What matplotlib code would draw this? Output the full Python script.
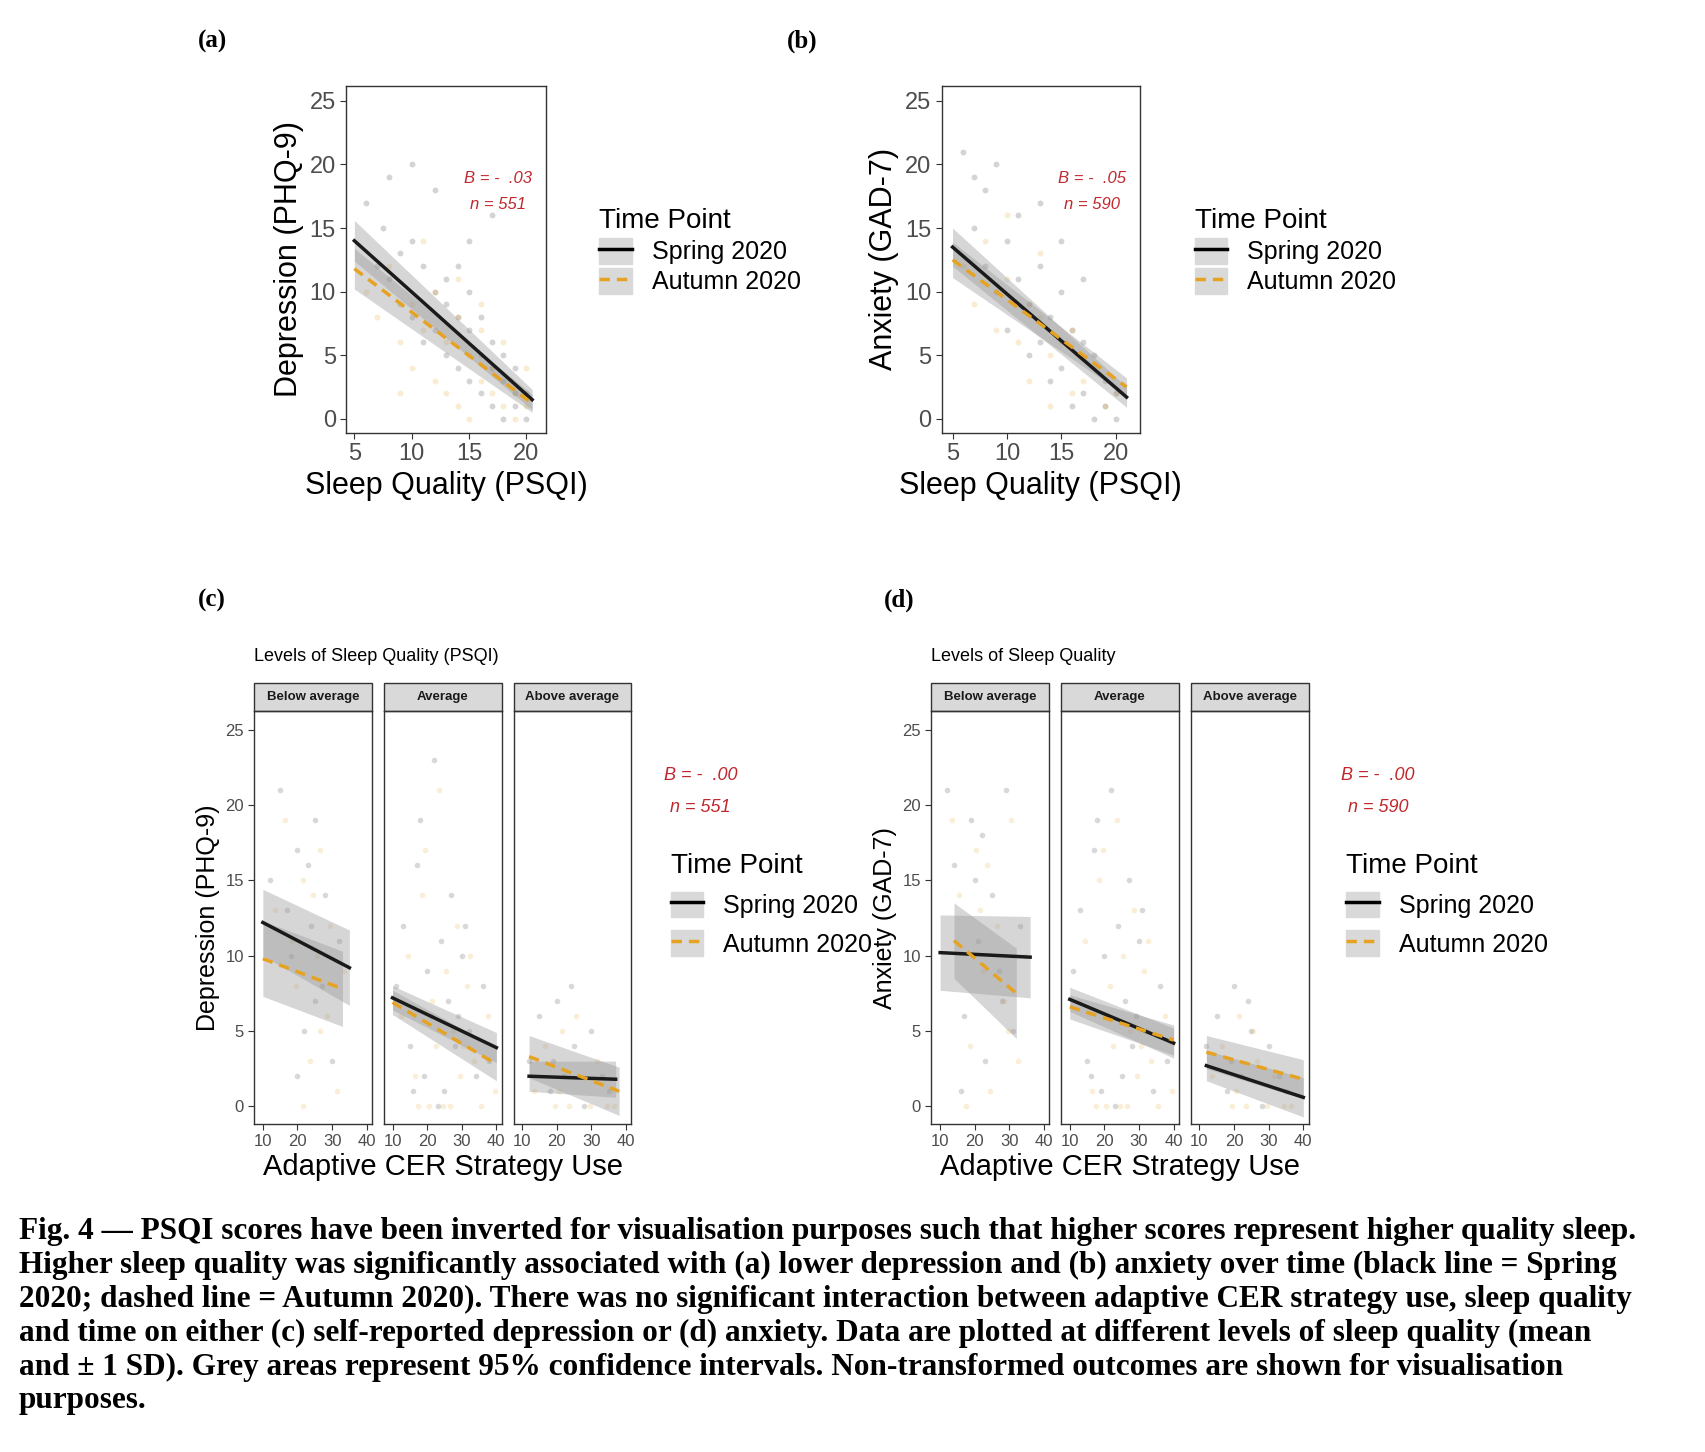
import numpy as np
import matplotlib.pyplot as plt
from matplotlib.lines import Line2D
from matplotlib.patches import Patch, Rectangle

plt.rcParams['font.family'] = ['Liberation Sans', 'DejaVu Sans']

# ---- data ----
# (a) depression vs sleep quality
a_spring_x = [6, 7, 7.5, 8, 9, 9, 10, 10, 11, 11, 12, 12, 13, 13, 13, 14, 14, 14, 15, 15, 15, 16, 16, 16, 17, 17, 17, 18, 18, 18, 19, 19, 19, 20, 20, 12, 10, 15, 17, 8]
a_spring_y = [17, 12, 15, 11, 13, 9, 14, 8, 12, 6, 10, 7, 11, 5, 9, 8, 4, 12, 7, 3, 10, 5, 2, 8, 4, 1, 6, 3, 0, 5, 2, 1, 4, 0, 2, 18, 20, 14, 16, 19]
a_autumn_x = [6, 7, 8, 9, 10, 10, 11, 12, 12, 13, 13, 14, 14, 15, 15, 16, 16, 17, 17, 18, 18, 19, 19, 20, 11, 9, 14, 16, 18, 20]
a_autumn_y = [10, 8, 12, 6, 9, 4, 7, 10, 3, 6, 2, 8, 1, 5, 0, 3, 7, 2, 4, 1, 3, 0, 2, 1, 14, 2, 11, 9, 6, 4]
# (b) anxiety vs sleep quality
b_spring_x = [6, 7, 8, 8, 9, 10, 10, 11, 11, 12, 12, 13, 13, 14, 14, 15, 15, 16, 16, 17, 17, 18, 18, 19, 19, 20, 20, 7, 9, 13, 15, 17]
b_spring_y = [21, 15, 12, 18, 10, 14, 7, 11, 16, 9, 5, 12, 6, 8, 3, 10, 4, 7, 1, 6, 2, 5, 0, 3, 1, 2, 0, 19, 20, 17, 14, 11]
b_autumn_x = [6, 7, 8, 9, 10, 11, 12, 12, 13, 14, 14, 15, 16, 16, 17, 18, 19, 20, 10, 13]
b_autumn_y = [12, 9, 14, 7, 11, 6, 9, 3, 8, 5, 1, 6, 2, 7, 3, 4, 1, 2, 16, 13]
a_lines = {'spring': ([5, 20.5], [14.0, 1.5], [1.6, 0.8]), 'autumn': ([5, 20.5], [11.8, 1.2], [1.6, 0.7])}
b_lines = {'spring': ([5, 21], [13.5, 1.7], [1.5, 0.8]), 'autumn': ([5, 21], [12.5, 2.5], [1.4, 0.7])}

# (c)/(d) facets: Below average, Average, Above average
facets = ['Below average', 'Average', 'Above average']
c_pts_x = [[12, 15, 18, 20, 22, 24, 25, 27, 28, 30, 32, 20, 25, 17, 23],
           [11, 13, 15, 17, 19, 20, 21, 22, 24, 25, 26, 28, 30, 32, 34, 36, 38, 18, 23, 27, 29, 16, 31],
           [12, 15, 18, 20, 22, 25, 28, 30, 33, 35, 24, 19]]
c_pts_y = [[15, 21, 10, 17, 5, 12, 19, 8, 14, 3, 11, 2, 7, 13, 16],
           [8, 12, 4, 16, 2, 9, 6, 23, 11, 1, 7, 4, 10, 5, 2, 8, 3, 19, 0, 14, 6, 1, 12],
           [3, 6, 1, 7, 2, 4, 0, 5, 2, 1, 8, 3]]
c_lines = [{'spring': ([10, 35], [12.2, 9.2], [2.2, 2.5]), 'autumn': ([10, 33], [9.8, 7.8], [2.5, 2.5])},
           {'spring': ([10, 40], [7.2, 3.9], [0.8, 1.0]), 'autumn': ([10, 40], [6.9, 2.8], [0.8, 1.1])},
           {'spring': ([12, 37], [2.0, 1.8], [1.0, 1.2]), 'autumn': ([12, 38], [3.3, 1.0], [1.4, 1.6])}]
d_pts_x = [[12, 14, 17, 19, 21, 23, 25, 27, 29, 31, 33, 16, 22, 28, 20],
           [11, 13, 15, 17, 19, 20, 21, 22, 24, 25, 26, 28, 30, 32, 34, 36, 38, 18, 23, 27, 29, 16, 31],
           [12, 15, 18, 20, 22, 25, 28, 30, 33, 35, 24, 19]]
d_pts_y = [[21, 16, 6, 19, 11, 3, 14, 9, 21, 5, 12, 1, 18, 7, 15],
           [9, 13, 3, 17, 1, 10, 6, 21, 12, 2, 7, 4, 11, 5, 1, 8, 3, 19, 0, 15, 6, 2, 13],
           [4, 6, 1, 8, 2, 5, 0, 4, 2, 1, 7, 3]]
d_lines = [{'spring': ([10, 36], [10.2, 9.9], [2.5, 2.7]), 'autumn': ([14, 32], [11.0, 7.5], [2.5, 3.0])},
           {'spring': ([10, 40], [7.1, 4.2], [0.8, 1.0]), 'autumn': ([10, 40], [6.6, 4.4], [0.8, 1.0])},
           {'spring': ([12, 40], [2.7, 0.6], [1.0, 1.3]), 'autumn': ([12, 40], [3.6, 1.8], [1.1, 1.3])}]

GOLD = '#E6A323'
RED = '#C0282D'

fig = plt.figure(figsize=(17.06, 14.52), dpi=100)


def style(ax, tick_size):
    ax.tick_params(labelsize=tick_size, color='#333333', labelcolor='#4d4d4d', length=4)
    for s in ax.spines.values():
        s.set_color('#333333')
        s.set_linewidth(1)


def draw_lines(ax, lines):
    for key, (xs, ys, se) in lines.items():
        xs = np.array(xs, float)
        ys = np.array(ys, float)
        se = np.array(se, float)
        ax.fill_between(xs, ys - se, ys + se, color='#999999', alpha=0.4, lw=0)
        if key == 'spring':
            ax.plot(xs, ys, color='#1a1a1a', lw=2.5)
        else:
            ax.plot(xs, ys, color=GOLD, lw=2.5, ls=(0, (3, 2)))


def legend(x, y, fs_title, fs, spacing):
    h = [(Patch(color='#d9d9d9'), Line2D([], [], color='black', lw=2.5)),
         (Patch(color='#d9d9d9'), Line2D([], [], color=GOLD, lw=2.5, ls=(0, (3, 2))))]
    lg = fig.legend(h, ['Spring 2020', 'Autumn 2020'], loc='upper left', bbox_to_anchor=(x, y),
                    frameon=False, title='Time Point', fontsize=fs, title_fontsize=fs_title,
                    handlelength=1.3, handleheight=1.2, labelspacing=spacing)
    lg._legend_box.align = 'left'


# ---- top panels ----
for lab, rect, xl, yl, xs, ys, lines, B, n, leg_x, lab_x in [
        ('(a)', [0.203, 0.702, 0.117, 0.239], (4.3, 21.7), 'Depression (PHQ-9)',
         (a_spring_x, a_autumn_x), (a_spring_y, a_autumn_y), a_lines, '.03', '551', 0.338, 0.116),
        ('(b)', [0.552, 0.702, 0.116, 0.239], (4.0, 22.2), 'Anxiety (GAD-7)',
         (b_spring_x, b_autumn_x), (b_spring_y, b_autumn_y), b_lines, '.05', '590', 0.687, 0.461)]:
    ax = fig.add_axes(rect)
    ax.scatter(xs[0], ys[0], s=18, color='#555555', alpha=0.25, lw=0)
    ax.scatter(xs[1], ys[1], s=18, color=GOLD, alpha=0.2, lw=0)
    draw_lines(ax, lines)
    ax.set_xlim(*xl)
    ax.set_ylim(-1.1, 26.2)
    ax.set_xticks([5, 10, 15, 20])
    ax.set_yticks([0, 5, 10, 15, 20, 25])
    style(ax, 17)
    ax.set_xlabel('Sleep Quality (PSQI)', fontsize=22)
    ax.set_ylabel(yl, fontsize=22)
    ax.text(0.93, 0.72, f'B = -  {B}', transform=ax.transAxes, ha='right', color=RED,
            fontsize=12, style='italic')
    ax.text(0.9, 0.645, f'n = {n}', transform=ax.transAxes, ha='right', color=RED,
            fontsize=12, style='italic')
    fig.text(lab_x, 0.967, lab, fontsize=18, fontweight='bold', family='Liberation Serif')
    legend(leg_x, 0.872, 20, 18, 0.15)

# ---- bottom facet panels ----
for lab, lefts, title, yl, px, py, lines, n, leg_x, lab_x in [
        ('(c)', [0.149, 0.225, 0.301], 'Levels of Sleep Quality (PSQI)', 'Depression (PHQ-9)',
         c_pts_x, c_pts_y, c_lines, '551', 0.38, 0.116),
        ('(d)', [0.546, 0.622, 0.698], 'Levels of Sleep Quality', 'Anxiety (GAD-7)',
         d_pts_x, d_pts_y, d_lines, '590', 0.776, 0.518)]:
    axes = []
    for i, left in enumerate(lefts):
        ax = fig.add_axes([left, 0.226, 0.069, 0.284])
        ax.scatter(px[i], py[i], s=16, color='#666666', alpha=0.25, lw=0)
        ax.scatter(np.array(px[i]) + 1.5, np.maximum(np.array(py[i]) - 2, 0), s=16,
                   color=GOLD, alpha=0.18, lw=0)
        draw_lines(ax, lines[i])
        ax.set_xlim(7.5, 41.5)
        ax.set_ylim(-1.16, 26.2)
        ax.set_xticks([10, 20, 30, 40])
        ax.set_yticks([0, 5, 10, 15, 20, 25])
        style(ax, 12)
        if i > 0:
            ax.tick_params(left=False, labelleft=False)
        ax.add_patch(Rectangle((0, 1), 1, 28 / 412, transform=ax.transAxes, clip_on=False,
                               facecolor='#d9d9d9', edgecolor='#333333', lw=1))
        ax.text(0.5, 1 + 14 / 412, facets[i], transform=ax.transAxes, ha='center', va='center',
                fontsize=9.5, fontweight='bold', color='#1a1a1a')
        axes.append(ax)
    axes[0].set_ylabel(yl, fontsize=18)
    axes[1].set_xlabel('Adaptive CER Strategy Use', fontsize=21, labelpad=3)
    axes[0].text(0, 1 + 50 / 412, title, transform=axes[0].transAxes, fontsize=13)
    fig.text(lefts[2] + 0.088, 0.463, 'B = -  .00', color=RED, fontsize=13, style='italic')
    fig.text(lefts[2] + 0.092, 0.441, f'n = {n}', color=RED, fontsize=13, style='italic')
    fig.text(lab_x, 0.582, lab, fontsize=18, fontweight='bold', family='Liberation Serif')
    legend(leg_x, 0.428, 20, 18, 0.5)

caption = ("Fig. 4 \u2014 PSQI scores have been inverted for visualisation purposes such that higher scores represent higher quality sleep.\n"
           "Higher sleep quality was significantly associated with (a) lower depression and (b) anxiety over time (black line = Spring\n"
           "2020; dashed line = Autumn 2020). There was no significant interaction between adaptive CER strategy use, sleep quality\n"
           "and time on either (c) self-reported depression or (d) anxiety. Data are plotted at different levels of sleep quality (mean\n"
           "and \u00b1 1 SD). Grey areas represent 95% confidence intervals. Non-transformed outcomes are shown for visualisation\n"
           "purposes.")
fig.text(0.011, 0.162, caption, fontsize=22.5, fontweight='bold', family='Liberation Serif',
         va='top', linespacing=1.22)

fig.savefig('out.png', dpi=100)
